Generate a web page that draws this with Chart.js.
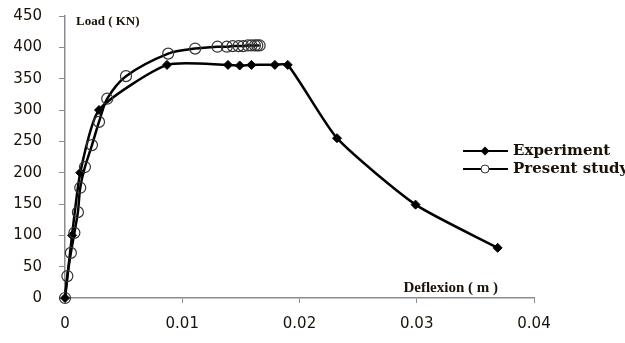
<!DOCTYPE html>
<html>
<head>
<meta charset="utf-8">
<script src="https://cdn.jsdelivr.net/npm/chart.js@4"></script>
<style>
  html, body { margin: 0; padding: 0; background: #fff; }
  #wrap { width: 625px; height: 343px; position: relative; }
</style>
</head>
<body>
<div id="wrap"><canvas id="loadChart"></canvas></div>
<script>
// values (deflexion in m, load in kN)
const expDeflexion = [0, 0.0006, 0.0013, 0.0029, 0.0087, 0.0139, 0.0149, 0.0159, 0.0179, 0.0190, 0.0232, 0.0299, 0.0369];
const expLoad      = [0, 100, 200, 300, 372, 372, 371, 372, 372, 372, 255, 149, 80];

const presDeflexion = [0, 0.0002, 0.0005, 0.0008, 0.0011, 0.0013, 0.0017, 0.0023, 0.0029, 0.0036, 0.0052, 0.0088, 0.0111,
                       0.0130, 0.0138, 0.0143, 0.0148, 0.0152, 0.0156, 0.0159, 0.0162, 0.0164, 0.0166];
const presLoad      = [0, 35, 72, 104, 137, 176, 209, 244, 281, 318, 354, 390, 398,
                       401, 401, 402, 402, 402, 403, 403, 403, 403, 403];

const xTicks = [0, 0.01, 0.02, 0.03, 0.04];
const yTicks = [0, 50, 100, 150, 200, 250, 300, 350, 400, 450];

const seriesNames = ["Experiment", "Present study"];
const yTitle = "Load ( KN)";
const xTitle = "Deflexion ( m )";

function toXY(xs, ys) {
  return xs.map((x, i) => ({ x: x, y: ys[i] }));
}

const textColor = "#1a1208";
const axisColor = "#8c8c8c";

// axis titles + legend, drawn the way the original (Excel) placed them
const annotations = {
  id: "annotations",
  afterDraw(chart) {
    const ctx = chart.ctx;
    const xs = chart.scales.x;
    ctx.save();
    ctx.fillStyle = textColor;
    ctx.textBaseline = "middle";
    ctx.textAlign = "left";

    ctx.font = "bold 13px 'Liberation Serif'";
    ctx.fillText(yTitle, xs.left + 11, 22);

    ctx.font = "bold 15px 'Liberation Serif'";
    ctx.textAlign = "right";
    ctx.fillText(xTitle, 498, 288);

    // legend
    ctx.textAlign = "left";
    ctx.font = "bold 15px 'DejaVu Serif'";
    const rows = [151, 169];
    chart.data.datasets.forEach((ds, i) => {
      const y = rows[i];
      ctx.strokeStyle = "#000";
      ctx.lineWidth = 2;
      ctx.beginPath();
      ctx.moveTo(463, y);
      ctx.lineTo(508, y);
      ctx.stroke();
      if (i === 0) {
        ctx.fillStyle = "#000";
        ctx.beginPath();
        ctx.moveTo(485, y - 4.5);
        ctx.lineTo(489.5, y);
        ctx.lineTo(485, y + 4.5);
        ctx.lineTo(480.5, y);
        ctx.closePath();
        ctx.fill();
      } else {
        ctx.fillStyle = "#fff";
        ctx.strokeStyle = "#333";
        ctx.lineWidth = 1;
        ctx.beginPath();
        ctx.arc(485, y, 4, 0, Math.PI * 2);
        ctx.fill();
        ctx.stroke();
      }
      ctx.fillStyle = textColor;
      ctx.fillText(ds.label, 513, y);
    });
    ctx.restore();
  }
};

new Chart(document.getElementById("loadChart"), {
  type: "scatter",
  data: {
    datasets: [
      {
        label: seriesNames[0],
        data: toXY(expDeflexion, expLoad),
        showLine: true,
        borderColor: "#000",
        borderWidth: 2.5,
        tension: 0.2,
        pointStyle: "rectRot",
        pointRadius: 4.5,
        pointBackgroundColor: "#000",
        pointBorderColor: "#000",
        pointBorderWidth: 1,
        order: 2
      },
      {
        label: seriesNames[1],
        data: toXY(presDeflexion, presLoad),
        showLine: true,
        borderColor: "#000",
        borderWidth: 2.5,
        tension: 0.3,
        pointStyle: "circle",
        pointRadius: 5.5,
        pointBackgroundColor: "rgba(0,0,0,0)",
        pointBorderColor: "#333",
        pointBorderWidth: 1.2,
        order: 1
      }
    ]
  },
  options: {
    responsive: true,
    maintainAspectRatio: false,
    animation: false,
    clip: false,
    layout: { padding: { top: 16, right: 91, left: 0, bottom: 0 } },
    plugins: {
      legend: { display: false },
      tooltip: { enabled: false }
    },
    scales: {
      x: {
        type: "linear",
        min: 0,
        max: 0.04,
        afterBuildTicks: (axis) => { axis.ticks = xTicks.map(v => ({ value: v })); },
        afterFit: (axis) => {
          axis.height = 45;
          axis.paddingLeft = 0;
          axis.paddingRight = 0;
        },
        ticks: {
          color: textColor,
          font: { family: "'DejaVu Sans'", size: 15 },
          padding: 12,
          maxRotation: 0,
          callback: (v) => String(v)
        },
        grid: { drawOnChartArea: false, drawTicks: true, tickLength: 5, color: axisColor },
        border: { display: true, color: axisColor, width: 1.5 }
      },
      y: {
        type: "linear",
        min: 0,
        max: 450,
        afterBuildTicks: (axis) => { axis.ticks = yTicks.map(v => ({ value: v })); },
        afterFit: (axis) => {
          axis.width = 65;
          axis.paddingTop = 0;
          axis.paddingBottom = 0;
        },
        ticks: {
          color: textColor,
          font: { family: "'DejaVu Sans'", size: 15 },
          padding: 17
        },
        grid: { drawOnChartArea: false, drawTicks: true, tickLength: 6, color: axisColor },
        border: { display: true, color: axisColor, width: 1.5 }
      }
    }
  },
  plugins: [annotations]
});
</script>
</body>
</html>
